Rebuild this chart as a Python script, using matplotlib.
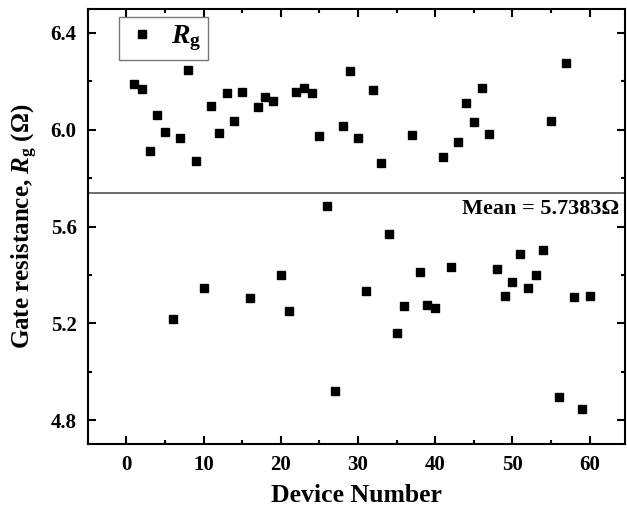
import numpy as np
import matplotlib
matplotlib.use('Agg')
import matplotlib.pyplot as plt
from matplotlib.ticker import MultipleLocator

plt.rcParams['font.family'] = ['Liberation Serif', 'DejaVu Serif']
plt.rcParams['font.weight'] = 'bold'
plt.rcParams['mathtext.fontset'] = 'custom'
plt.rcParams['mathtext.rm'] = 'Liberation Serif:bold'
plt.rcParams['mathtext.it'] = 'Liberation Serif:italic:bold'
plt.rcParams['mathtext.bf'] = 'Liberation Serif:bold'

device = np.arange(1, 61)
rg = [6.19, 6.167, 5.912, 6.063, 5.992, 5.217, 5.966, 6.249, 5.872, 5.347,
      6.100, 5.985, 6.151, 6.037, 6.154, 5.305, 6.093, 6.135, 6.119, 5.401,
      5.249, 6.156, 6.174, 6.150, 5.974, 5.686, 4.921, 6.016, 6.243, 5.965,
      5.332, 6.163, 5.862, 5.570, 5.158, 5.272, 5.978, 5.414, 5.277, 5.262,
      5.889, 5.433, 5.951, 6.110, 6.030, 6.173, 5.982, 5.424, 5.313, 5.370,
      5.487, 5.347, 5.401, 5.504, 6.037, 4.897, 6.274, 5.307, 4.845, 5.313]
mean_rg = 5.7383

fig = plt.figure(figsize=(6.27, 5.16), dpi=100)
ax = fig.add_axes([0.140, 0.139, 0.857, 0.844])

ax.plot(device, rg, 's', color='black', ms=5.8, label=r'$R_\mathrm{g}$')
ax.axhline(mean_rg, color='#555555', lw=1.2)
ax.text(63.8, mean_rg - 0.025, 'Mean = 5.7383Ω', ha='right', va='top',
        fontsize=16, fontweight='bold')

ax.set_xlim(-5, 64.6)
ax.set_ylim(4.7, 6.5)
ax.xaxis.set_major_locator(MultipleLocator(10))
ax.xaxis.set_minor_locator(MultipleLocator(5))
ax.yaxis.set_major_locator(MultipleLocator(0.4))
ax.yaxis.set_minor_locator(MultipleLocator(0.2))
ax.tick_params(which='both', direction='in', top=True, right=True,
               labelsize=15, width=1.5)
ax.tick_params(which='major', length=6, pad=8)
ax.tick_params(which='minor', length=3)
for lab in ax.get_xticklabels() + ax.get_yticklabels():
    lab.set_fontweight('bold')
for s in ax.spines.values():
    s.set_linewidth(1.5)

ax.set_xlabel('Device Number', fontsize=18.5, fontweight='bold', labelpad=6)
ax.set_ylabel(r'Gate resistance, $R_\mathrm{g}$ (Ω)', fontsize=18,
              fontweight='bold', labelpad=8)

leg = ax.legend(loc='upper left', bbox_to_anchor=(0.059, 0.982), fontsize=20,
                frameon=True, fancybox=False, edgecolor='#777777',
                framealpha=1, borderaxespad=0, handletextpad=0.5,
                borderpad=0.25, handlelength=1.1)
leg.get_frame().set_linewidth(1.0)
leg.set_zorder(5)

fig.savefig('out.png', dpi=100)
